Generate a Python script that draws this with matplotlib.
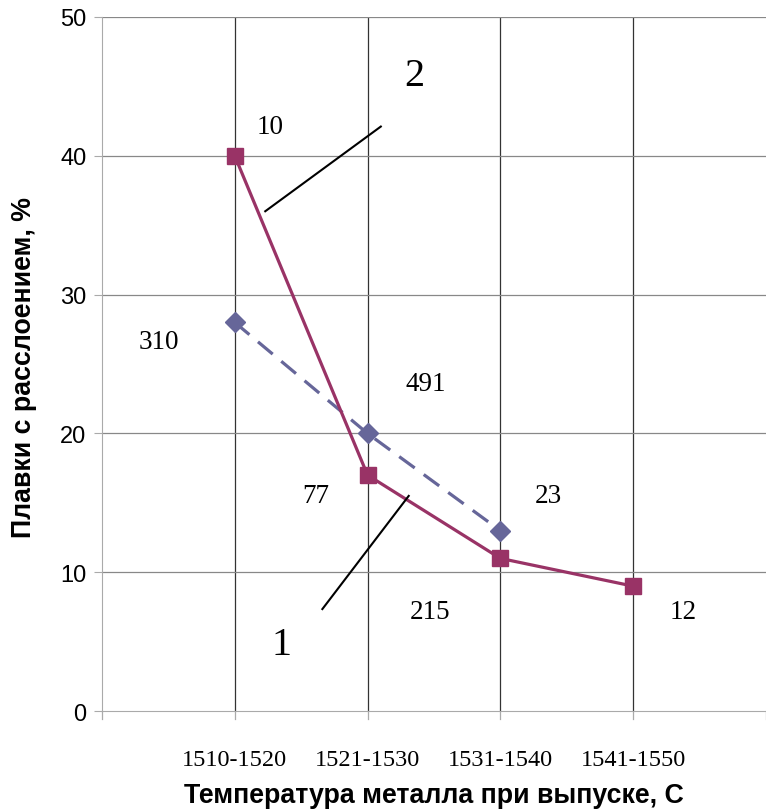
import matplotlib
matplotlib.use("Agg")
import matplotlib.pyplot as plt

categories = ["1510-1520", "1521-1530", "1531-1540", "1541-1550"]
series1 = [28, 20, 13]          # curve 1 (dashed)
series2 = [40, 17, 11, 9]       # curve 2 (solid)
counts = ["10", "310", "491", "77", "23", "215", "12"]
curve_names = ["1", "2"]

purple = "#993366"
blue = "#666699"

fig = plt.figure(figsize=(7.66, 8.12), dpi=100)
ax = fig.add_axes([0.133, 0.123, 0.867, 0.855])

x1 = list(range(len(series1)))
x2 = list(range(len(series2)))

for x in range(len(categories)):
    ax.axvline(x, color="#333333", lw=0.9, zorder=1)
for y in range(10, 51, 10):
    ax.axhline(y, color="#888888", lw=0.9, zorder=1)

ax.plot(x1, series1, color=blue, lw=2.3, ls=(0, (6, 3.5)), marker="D",
        markersize=10, zorder=3)
ax.plot(x2, series2, color=purple, lw=2.3, marker="s", markersize=12,
        zorder=4)

ax.set_xlim(-1, 4)
ax.set_ylim(0, 50)
ax.set_yticks(range(0, 51, 10))
ax.set_xticks(range(len(categories)))
ax.set_xticklabels(categories, fontfamily="Liberation Serif", fontsize=17.5)
ax.tick_params(axis="x", length=0, pad=27)
ax.tick_params(axis="y", length=6, color="#aaaaaa", labelsize=17, pad=5)
for lab in ax.get_yticklabels():
    lab.set_fontfamily("Liberation Sans")

# small tick marks below the axis at category boundaries and centres
for x in [-1, 0, 1, 2, 3, 4]:
    ax.plot([x, x], [0, -0.6], color="#aaaaaa", lw=0.9, clip_on=False)

for s in ["top", "right"]:
    ax.spines[s].set_visible(False)
ax.spines["left"].set_color("#aaaaaa")
ax.spines["bottom"].set_color("#aaaaaa")

ax.set_xlabel("Температура металла при выпуске, С", fontfamily="Liberation Sans",
              fontweight="bold", fontsize=19.3, labelpad=9)
ax.set_ylabel("Плавки с расслоением, %", fontfamily="Liberation Sans",
              fontweight="bold", fontsize=19.3)
ax.yaxis.set_label_coords(-0.098, 0.497)

# count labels
count_pos = [(0.27, 42.1), (-0.57, 26.6), (1.44, 23.6), (0.61, 15.5),
             (2.36, 15.5), (1.47, 7.2), (3.38, 7.2)]
for t, (x, y) in zip(counts, count_pos):
    ax.text(x, y, t, fontfamily="Liberation Serif", fontsize=19.5,
            ha="center", va="center", zorder=5)

# curve labels with leader lines
ax.text(0.35, 4.8, curve_names[0], fontfamily="Liberation Serif", fontsize=29,
        ha="center", va="center")
ax.text(1.35, 45.75, curve_names[1], fontfamily="Liberation Serif", fontsize=29,
        ha="center", va="center")
ax.plot([0.66, 1.31], [7.35, 15.5], color="black", lw=1.5, zorder=5)
ax.plot([0.23, 1.10], [36.0, 42.1], color="black", lw=1.5, zorder=5)

fig.savefig("out.png", dpi=100)
